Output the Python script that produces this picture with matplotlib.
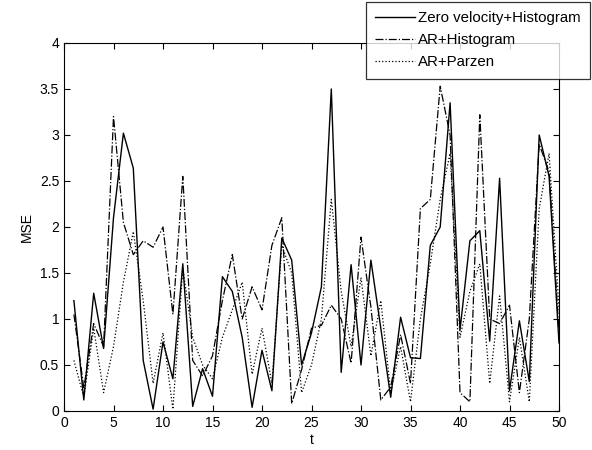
import numpy as np
import matplotlib.pyplot as plt

plt.rcParams['font.family'] = ['Liberation Sans', 'DejaVu Sans']

t = np.arange(1, 51)

zero_vel_hist = [1.2, 0.12, 1.28, 0.68, 2.1, 3.02, 2.64, 0.55, 0.02, 0.75,
                 0.35, 1.6, 0.05, 0.46, 0.16, 1.46, 1.3, 0.8, 0.04, 0.66,
                 0.22, 1.88, 1.64, 0.5, 0.85, 1.35, 3.5, 0.42, 1.59, 0.5,
                 1.64, 0.9, 0.15, 1.02, 0.58, 0.57, 1.8, 2.0, 3.35, 0.88,
                 1.85, 1.96, 0.76, 2.53, 0.22, 0.98, 0.32, 3.0, 2.55, 0.74]

ar_hist = [1.05, 0.25, 0.95, 0.7, 3.2, 2.05, 1.7, 1.85, 1.78, 2.0,
           1.05, 2.55, 0.55, 0.38, 0.6, 1.2, 1.7, 1.0, 1.35, 1.1,
           1.8, 2.1, 0.08, 0.45, 0.9, 0.93, 1.15, 1.0, 0.52, 1.89,
           1.13, 0.12, 0.26, 0.83, 0.3, 2.2, 2.3, 3.53, 3.0, 0.2,
           0.1, 3.22, 1.0, 0.95, 1.15, 0.2, 1.0, 2.9, 2.6, 0.85]

ar_parzen = [0.55, 0.15, 0.9, 0.2, 0.7, 1.4, 1.95, 1.2, 0.3, 0.85,
             0.02, 1.55, 0.8, 0.5, 0.35, 0.8, 1.1, 1.4, 0.4, 0.9,
             0.3, 1.8, 1.5, 0.2, 0.5, 1.0, 2.3, 1.3, 0.7, 1.45,
             0.6, 1.2, 0.2, 0.7, 0.1, 1.0, 1.6, 2.3, 2.8, 0.8,
             1.3, 1.6, 0.3, 1.25, 0.1, 0.8, 0.1, 2.2, 2.8, 1.1]

fig = plt.figure(figsize=(5.92, 4.5), dpi=100)
ax = fig.add_axes([64 / 592, 39 / 450, 495 / 592, 368 / 450])

ax.plot(t, zero_vel_hist, color='black', linestyle='-', linewidth=1.0,
        label='Zero velocity+Histogram')
ax.plot(t, ar_hist, color='black', linestyle='-.', linewidth=0.9,
        label='AR+Histogram')
ax.plot(t, ar_parzen, color='black', linestyle=':', linewidth=0.9,
        label='AR+Parzen')

ax.set_xlim(0, 50)
ax.set_ylim(0, 4)
ax.set_xticks(np.arange(0, 51, 5))
ax.set_yticks(np.arange(0, 4.01, 0.5))
ax.set_yticklabels(['0', '0.5', '1', '1.5', '2', '2.5', '3', '3.5', '4'])
ax.tick_params(direction='in', top=True, right=True, labelsize=10, length=4)
ax.set_xlabel('t', fontsize=10, labelpad=2)
ax.set_ylabel('MSE', fontsize=10)

leg = ax.legend(loc='upper right', bbox_to_anchor=(590 / 592, 448 / 450),
                bbox_transform=fig.transFigure, fontsize=10.8, frameon=True,
                fancybox=False, edgecolor='black', handlelength=2.7,
                labelspacing=0.55, borderpad=0.6, handletextpad=0.2,
                borderaxespad=0)
leg.get_frame().set_linewidth(0.9)

fig.savefig('out.png', dpi=100)
